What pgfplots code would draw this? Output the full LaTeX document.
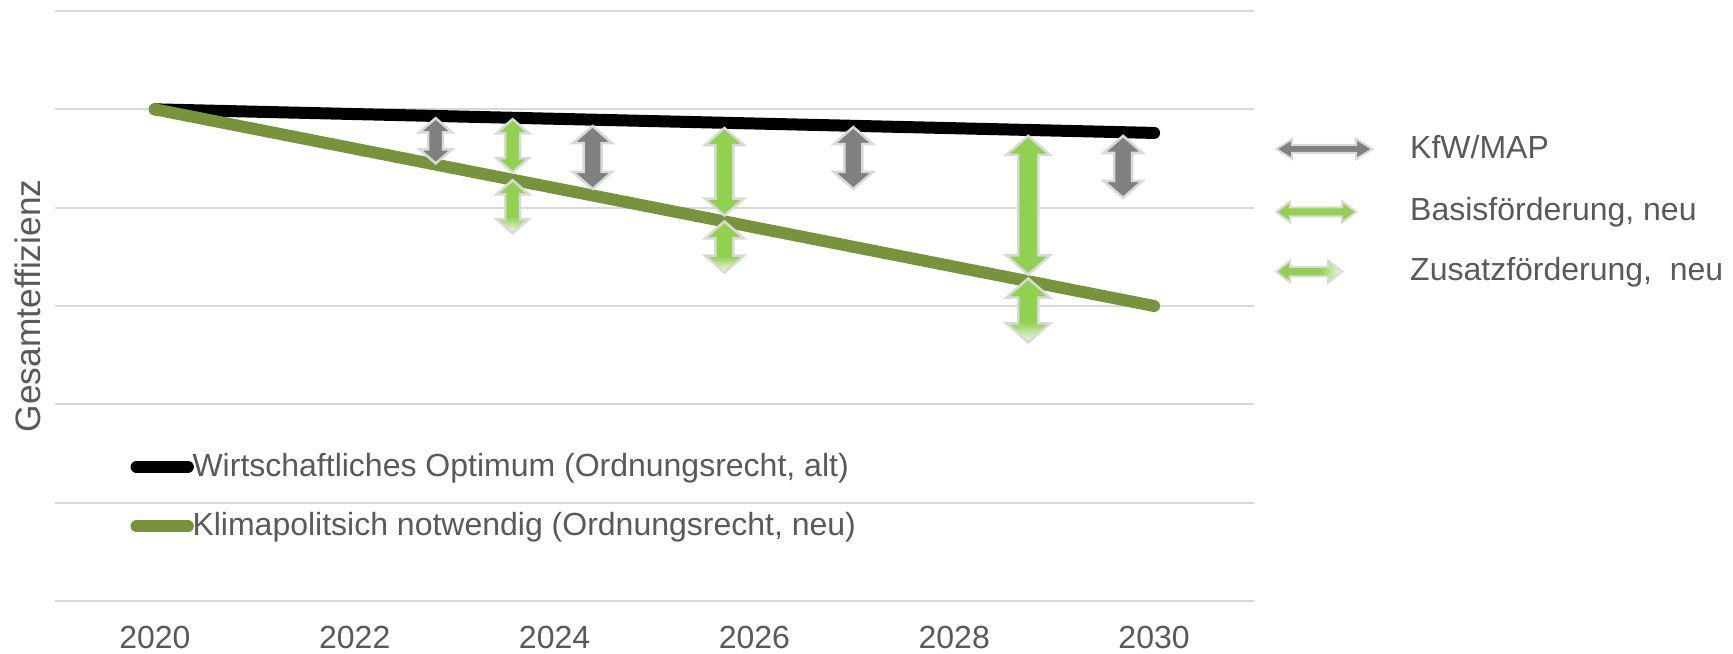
\documentclass[border=0pt]{standalone}
\usepackage{pgfplots}
\pgfplotsset{compat=1.18}
\usepackage{pgfplotstable}
\usepackage{fontspec}
\setmainfont{Liberation Sans}

\definecolor{textgray}{HTML}{595959}
\definecolor{gridgray}{HTML}{D9D9D9}
\definecolor{bordergray}{HTML}{D9D9D9}
\definecolor{kfwgray}{HTML}{808080}
\definecolor{basisgreen}{HTML}{92D050}
\definecolor{olivegreen}{HTML}{77933C}
\colorlet{zusatzlight}{basisgreen!10!white}

% fading green for the additional-funding arrows (bottom / right end fades out)
\pgfdeclareverticalshading{zusatzV}{100bp}{color(0bp)=(zusatzlight); color(25bp)=(zusatzlight); color(41bp)=(basisgreen); color(100bp)=(basisgreen)}
\pgfdeclarehorizontalshading{zusatzH}{100bp}{color(0bp)=(basisgreen); color(25bp)=(basisgreen); color(58bp)=(basisgreen); color(75bp)=(zusatzlight); color(100bp)=(zusatzlight)}

\newcommand{\chartfont}{\fontsize{9.6}{11.5}\selectfont}

\tikzset{
  arrowbase/.style={draw=bordergray, line width=0.75pt, line join=miter},
  kfw/.style={arrowbase, fill=kfwgray},
  basis/.style={arrowbase, fill=basisgreen},
  zusatz/.style={arrowbase, shade, shading=zusatzV},
}

% outline of a vertical double arrow: hx/sx = head/shaft half width factor,
% ey = 1 for the upper end, 0 for the lower end, hy = head length factor
\pgfplotstableread{
hx sx ey hy
0 0 1 0
1 0 1 1
0 1 1 1
0 1 0 1
1 0 0 1
0 0 0 0
-1 0 0 1
0 -1 0 1
0 -1 1 1
-1 0 1 1
0 0 1 0
}\arrowshape

% #1 year, #2 lower end, #3 upper end, #4 size factor, #5 style
\newcommand{\uparrowplot}[5]{%
  \addplot[#5] table[
    x expr={#1+#4*(0.195*\thisrow{hx}+0.09*\thisrow{sx})},
    y expr={#2+\thisrow{ey}*(#3-#2)+(1-2*\thisrow{ey})*#4*0.173*\thisrow{hy}}
  ] {\arrowshape} -- cycle;
}

% horizontal double arrow for the legend: #1 length, #2 head half height,
% #3 shaft half height, #4 head length, #5 style
\newcommand{\legarrow}[5]{%
  \path[#5] (0pt,0pt) -- (#4,#2) -- (#4,#3) -- (#1-#4,#3)
    -- (#1-#4,#2) -- (#1,0pt) -- (#1-#4,-#2) -- (#1-#4,-#3)
    -- (#4,-#3) -- (#4,-#2) -- cycle;
}

\begin{document}
\begin{tikzpicture}
\begin{axis}[
  scale only axis, width=359.7pt, height=177pt,
  xmin=2019, xmax=2031, ymin=0, ymax=6,
  axis line style={draw=none},
  tick style={draw=none},
  major tick length=0pt,
  xtick={2020,2022,...,2030},
  ytick={0,1,...,6}, yticklabels={},
  ymajorgrids, grid style={gridgray, line width=0.6pt},
  xticklabel style={font=\chartfont, text=textgray, inner sep=0pt, yshift=-7.35pt,
    /pgf/number format/1000 sep={}, /pgf/number format/assume math mode=true},
  ylabel={Gesamteffizienz},
  ylabel style={font=\fontsize{10.6}{12.7}\selectfont, text=textgray,
    at={(axis description cs:-0.02294,0.5)}, anchor=center},
  legend cell align=left,
  legend style={at={(axis description cs:0.0630,0.2511)}, anchor=north west,
    draw=none, fill=none, inner sep=0pt, outer sep=0pt,
    row sep=9.36pt, column sep=-0.4pt, font=\chartfont, text=textgray,
    nodes={inner sep=0pt}},
  legend image code/.code={\draw[#1] (0pt,0pt) -- (15.4pt,0pt);},
  clip=false,
]
\addplot[black, line width=3.6pt, line cap=round] coordinates {(2020,5) (2030,4.76)};
\addlegendentry{Wirtschaftliches Optimum (Ordnungsrecht, alt)}
\addplot[olivegreen, line width=3.6pt, line cap=round] coordinates {(2020,5) (2030,3)};
\addlegendentry{Klimapolitsich notwendig (Ordnungsrecht, neu)}
\end{axis}

\begin{axis}[
  scale only axis, width=359.7pt, height=177pt,
  xmin=2019, xmax=2031, ymin=0, ymax=6,
  hide axis, clip=false,
  legend cell align=left,
  legend style={at={(axis description cs:1.0175,0.790)}, anchor=north west,
    draw=none, fill=none, inner sep=0pt, outer sep=0pt,
    row sep=9.46pt, column sep=11.1pt, font=\chartfont, text=textgray,
    nodes={inner sep=0pt}},
]
\uparrowplot{2022.81}{4.45}{4.91}{0.83}{kfw, legend image code/.code={\legarrow{28.8pt}{3.0pt}{1.2pt}{4.8pt}{kfw, line width=0.6pt}\path (0pt,-4.8pt);}}
\addlegendentry{KfW/MAP}
\uparrowplot{2023.58}{4.36}{4.90}{0.83}{basis, legend image code/.code={\legarrow{24pt}{3.15pt}{1.35pt}{4.2pt}{basis, line width=0.6pt}}}
\addlegendentry{Basisförderung, neu}
\uparrowplot{2023.58}{3.74}{4.28}{0.83}{zusatz, legend image code/.code={\legarrow{19.8pt}{3.3pt}{1.4pt}{4.2pt}{arrowbase, line width=0.6pt, shade, shading=zusatzH}}}
\addlegendentry{Zusatzförderung,~~neu}
\uparrowplot{2024.38}{4.19}{4.83}{1.00}{kfw, forget plot}
\uparrowplot{2025.70}{3.92}{4.81}{1.00}{basis, forget plot}
\uparrowplot{2025.70}{3.34}{3.86}{1.00}{zusatz, forget plot}
\uparrowplot{2026.99}{4.19}{4.82}{1.00}{kfw, forget plot}
\uparrowplot{2028.74}{3.32}{4.73}{1.12}{basis, forget plot}
\uparrowplot{2028.74}{2.63}{3.28}{1.12}{zusatz, forget plot}
\uparrowplot{2029.69}{4.10}{4.73}{1.00}{kfw, forget plot}
\end{axis}

\pgfresetboundingbox
\path[use as bounding box] (-16.5pt,-15.6pt) rectangle (503.4pt,180.3pt);
\end{tikzpicture}
\end{document}
